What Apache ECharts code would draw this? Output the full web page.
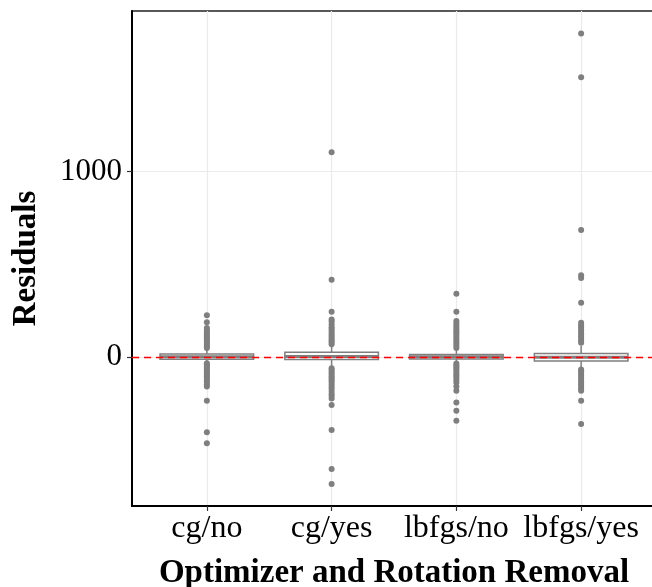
<!DOCTYPE html>
<html>
<head>
<meta charset="utf-8">
<script src="https://cdn.jsdelivr.net/npm/echarts@6/dist/echarts.min.js"></script>
<style>html,body{margin:0;padding:0;background:#fff}#c{width:652px;height:587px}</style>
</head>
<body>
<div id="c"></div>
<script>
var categories = ['cg/no', 'cg/yes', 'lbfgs/no', 'lbfgs/yes'];
var yTicks = [0, 1000];
// [lower whisker, Q1, median, Q3, upper whisker]
var boxCgNo = [-30, -13, 0, 15, 40];
var boxCgYes = [-57, -15, 2, 24, 58];
var boxLbNo = [-31, -12, 0, 13, 40];
var boxLbYes = [-62, -23, -3, 18, 58];
var outCgNo = [225, 187, 155, 145, 135, 125, 115, 105, 95, 85, 75, 65, 55, 48, -35, -42, -50, -58, -66, -75, -85, -95, -105, -115, -125, -135, -148, -160, -238, -408, -467];
var outCgYes = [1105, 416, 243, 202, 190, 175, 160, 150, 140, 128, 118, 108, 98, 88, 78, 68, -62, -72, -82, -92, -102, -112, -122, -132, -145, -158, -170, -185, -200, -211, -225, -261, -396, -606, -687];
var outLbNo = [340, 243, 193, 180, 168, 155, 143, 132, 120, 108, 96, 84, 72, 60, 48, -36, -45, -55, -65, -75, -88, -100, -112, -125, -139, -160, -184, -247, -292, -346];
var outLbYes = [1747, 1510, 685, 440, 425, 292, 184, 170, 158, 146, 134, 122, 110, 98, 86, 76, -68, -78, -90, -102, -114, -126, -138, -150, -162, -174, -184, -238, -363];
var refLine = 0;

var boxes = [boxCgNo, boxCgYes, boxLbNo, boxLbYes];
var outs = [outCgNo, outCgYes, outLbNo, outLbYes];
var boxData = boxes.map(function (b, i) { return [i].concat(b); });
var pts = [];
outs.forEach(function (arr, i) { arr.forEach(function (v) { pts.push([i, v]); }); });
var catIdx = categories.map(function (c, i) { return i; });

var FONT = '"Liberation Serif", "DejaVu Serif", serif';
var chart = echarts.init(document.getElementById('c'));
chart.setOption({
  animation: false,
  grid: { left: 132, top: 11, width: 524, height: 495, containLabel: false, outerBoundsMode: 'none',
    show: true, borderColor: '#222', borderWidth: 1.5, backgroundColor: 'transparent' },
  xAxis: {
    type: 'value', min: -0.6, max: 3.6,
    name: 'Optimizer and Rotation Removal', nameLocation: 'middle', nameGap: 51,
    nameTextStyle: { fontFamily: FONT, fontSize: 33, fontWeight: 'bold', color: '#000' },
    axisLine: { show: true, onZero: false, lineStyle: { color: '#000', width: 2 } },
    axisTick: { show: true, customValues: catIdx, length: 5, lineStyle: { color: '#333', width: 1.2 } },
    axisLabel: { customValues: catIdx, fontFamily: FONT, fontSize: 32, color: '#000', margin: 7,
      formatter: function (v) { return categories[Math.round(v)]; } },
    splitLine: { show: true, lineStyle: { color: '#ebebeb', width: 1.2 } }
  },
  yAxis: {
    type: 'value', min: -806, max: 1868,
    name: 'Residuals', nameLocation: 'middle', nameGap: 89,
    nameTextStyle: { fontFamily: FONT, fontSize: 33, fontWeight: 'bold', color: '#000' },
    axisLine: { show: true, onZero: false, lineStyle: { color: '#000', width: 2 } },
    axisTick: { show: true, customValues: yTicks, length: 5, lineStyle: { color: '#333', width: 1.2 } },
    axisLabel: { customValues: yTicks, fontFamily: FONT, fontSize: 31, color: '#000', margin: 10,
      formatter: function (v) { return String(v); } },
    splitLine: { show: true, lineStyle: { color: '#ebebeb', width: 1.2 } }
  },
  series: [
    {
      type: 'custom', z: 3,
      data: boxData,
      encode: { x: 0, y: [1, 2, 3, 4, 5] },
      renderItem: function (params, api) {
        var x = api.value(0);
        var w = api.size([0.75, 0])[0];
        var pLo = api.coord([x, api.value(1)]);
        var pQ1 = api.coord([x, api.value(2)]);
        var pMed = api.coord([x, api.value(3)]);
        var pQ3 = api.coord([x, api.value(4)]);
        var pHi = api.coord([x, api.value(5)]);
        var stroke = { stroke: '#7f7f7f', lineWidth: 1.5 };
        return {
          type: 'group',
          children: [
            { type: 'line', shape: { x1: pLo[0], y1: pLo[1], x2: pQ1[0], y2: pQ1[1] }, style: stroke },
            { type: 'line', shape: { x1: pQ3[0], y1: pQ3[1], x2: pHi[0], y2: pHi[1] }, style: stroke },
            { type: 'rect', shape: { x: pQ3[0] - w / 2, y: pQ3[1], width: w, height: pQ1[1] - pQ3[1] }, style: { fill: '#fff', stroke: '#7f7f7f', lineWidth: 1.5 } },
            { type: 'line', shape: { x1: pMed[0] - w / 2, y1: pMed[1], x2: pMed[0] + w / 2, y2: pMed[1] }, style: { stroke: '#7f7f7f', lineWidth: 3 } }
          ]
        };
      }
    },
    {
      type: 'scatter', z: 4,
      data: pts, symbolSize: 6,
      itemStyle: { color: '#7f7f7f', opacity: 1 }
    },
    {
      type: 'scatter', z: 10, data: [],
      markLine: {
        silent: true, symbol: 'none', label: { show: false },
        lineStyle: { color: '#ff0000', type: [7, 5], width: 1.3 },
        data: [{ yAxis: refLine }]
      }
    }
  ]
});
</script>
</body>
</html>
